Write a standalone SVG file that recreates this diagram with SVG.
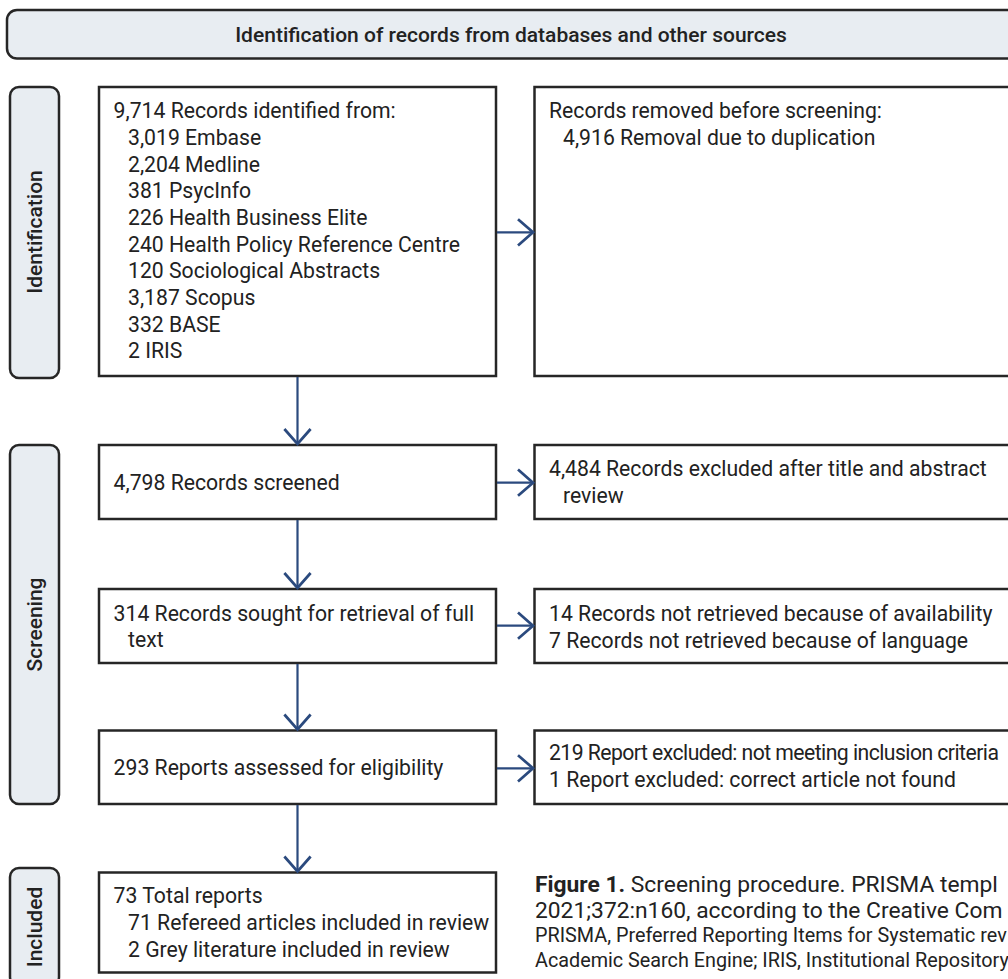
<svg xmlns="http://www.w3.org/2000/svg" width="1008" height="979" viewBox="0 0 1008 979">
<defs>
<style>
.lab{fill:#e8edf2;stroke:#262626;stroke-width:2.5}
.box{fill:#ffffff;stroke:#262626;stroke-width:2.5}
.t{font-family:Roboto,"Liberation Sans",sans-serif;font-size:21.2px;fill:#222222}
.h{font-family:Roboto,"Liberation Sans",sans-serif;font-size:21px;font-weight:500;fill:#222222}
.c1{font-family:Roboto,"Liberation Sans",sans-serif;font-size:22.8px;fill:#222222}
.c2{font-family:Roboto,"Liberation Sans",sans-serif;font-size:19.8px;fill:#222222}
.con{stroke:#2b4a7e;stroke-width:2.2;fill:none}
</style>
<marker id="ah" markerUnits="userSpaceOnUse" markerWidth="30" markerHeight="30" viewBox="-14 -12 16 24" refX="0" refY="0" orient="auto">
<path d="M-12,-10.5 L0,0 L-12,10.5" fill="none" stroke="#2b4a7e" stroke-width="2.2"/>
</marker>
</defs>

<g id="header">
<rect class="lab" x="7" y="10" width="1012" height="48.5" rx="10"/>
<text class="h" x="511" y="42" text-anchor="middle">Identification of records from databases and other sources</text>
</g>

<g id="label-identification">
<rect class="lab" x="10" y="87" width="49" height="291" rx="9"/>
<text class="h" transform="translate(34.5,232) rotate(-90)" text-anchor="middle" dominant-baseline="central">Identification</text>
</g>
<g id="label-screening">
<rect class="lab" x="10" y="445" width="49" height="359" rx="9"/>
<text class="h" transform="translate(34.5,624.5) rotate(-90)" text-anchor="middle" dominant-baseline="central">Screening</text>
</g>
<g id="label-included">
<rect class="lab" x="10" y="868" width="49" height="118" rx="9"/>
<text class="h" transform="translate(34.5,927) rotate(-90)" text-anchor="middle" dominant-baseline="central">Included</text>
</g>

<g id="records-identified">
<rect class="box" x="99" y="87" width="397" height="289"/>
<text class="t" x="113.6" y="118.3">9,714 Records identified from:<tspan x="128" dy="26.67">3,019 Embase</tspan><tspan x="128" dy="26.67">2,204 Medline</tspan><tspan x="128" dy="26.67">381 PsycInfo</tspan><tspan x="128" dy="26.67">226 Health Business Elite</tspan><tspan x="128" dy="26.67">240 Health Policy Reference Centre</tspan><tspan x="128" dy="26.67">120 Sociological Abstracts</tspan><tspan x="128" dy="26.67">3,187 Scopus</tspan><tspan x="128" dy="26.67">332 BASE</tspan><tspan x="128" dy="26.67">2 IRIS</tspan></text>
</g>

<g id="records-removed">
<rect class="box" x="534.5" y="87" width="500" height="289"/>
<text class="t" x="549" y="118.3">Records removed before screening:<tspan x="563" dy="26.67">4,916 Removal due to duplication</tspan></text>
</g>

<g id="records-screened">
<rect class="box" x="99" y="445" width="397" height="74"/>
<text class="t" x="113.6" y="490">4,798 Records screened</text>
</g>

<g id="records-excluded">
<rect class="box" x="534.5" y="445" width="500" height="74"/>
<text class="t" x="549" y="476">4,484 Records excluded after title and abstract<tspan x="563" dy="26.67">review</tspan></text>
</g>

<g id="records-sought">
<rect class="box" x="99" y="589" width="397" height="74"/>
<text class="t" x="113.6" y="620.5">314 Records sought for retrieval of full<tspan x="128" dy="26.67">text</tspan></text>
</g>

<g id="records-not-retrieved">
<rect class="box" x="534.5" y="589" width="500" height="74"/>
<text class="t" x="549" y="621">14 Records not retrieved because of availability<tspan x="549" dy="26.67">7 Records not retrieved because of language</tspan></text>
</g>

<g id="reports-assessed">
<rect class="box" x="99" y="730.5" width="397" height="73.5"/>
<text class="t" x="113.6" y="775">293 Reports assessed for eligibility</text>
</g>

<g id="reports-excluded">
<rect class="box" x="534.5" y="730.5" width="500" height="73.5"/>
<text class="t" x="549" y="760" letter-spacing="-0.55">219 Report excluded: not meeting inclusion criteria</text>
<text class="t" x="549" y="786.7">1 Report excluded: correct article not found</text>
</g>

<g id="total-reports">
<rect class="box" x="99" y="872.5" width="397" height="100"/>
<text class="t" x="113.6" y="903.3">73 Total reports<tspan x="128" dy="26.67">71 Refereed articles included in review</tspan><tspan x="128" dy="26.67">2 Grey literature included in review</tspan></text>
</g>

<g id="connectors">
<line class="con" x1="497" y1="232.3" x2="533" y2="232.3" marker-end="url(#ah)"/>
<line class="con" x1="297.5" y1="377" x2="297.5" y2="444" marker-end="url(#ah)"/>
<line class="con" x1="497" y1="482.7" x2="533" y2="482.7" marker-end="url(#ah)"/>
<line class="con" x1="297.5" y1="520" x2="297.5" y2="588" marker-end="url(#ah)"/>
<line class="con" x1="497" y1="625.7" x2="533" y2="625.7" marker-end="url(#ah)"/>
<line class="con" x1="297.5" y1="664" x2="297.5" y2="729.5" marker-end="url(#ah)"/>
<line class="con" x1="497" y1="768.3" x2="533" y2="768.3" marker-end="url(#ah)"/>
<line class="con" x1="297.5" y1="805" x2="297.5" y2="871.5" marker-end="url(#ah)"/>
</g>

<g id="caption">
<text class="c1" x="535" y="892"><tspan font-weight="700">Figure 1.</tspan> Screening procedure. PRISMA templ</text>
<text class="c1" x="535" y="918">2021;372:n160, according to the Creative Com</text>
<text class="c2" x="535" y="942">PRISMA, Preferred Reporting Items for Systematic rev</text>
<text class="c2" x="535" y="967">Academic Search Engine; IRIS, Institutional Repository</text>
</g>
</svg>
